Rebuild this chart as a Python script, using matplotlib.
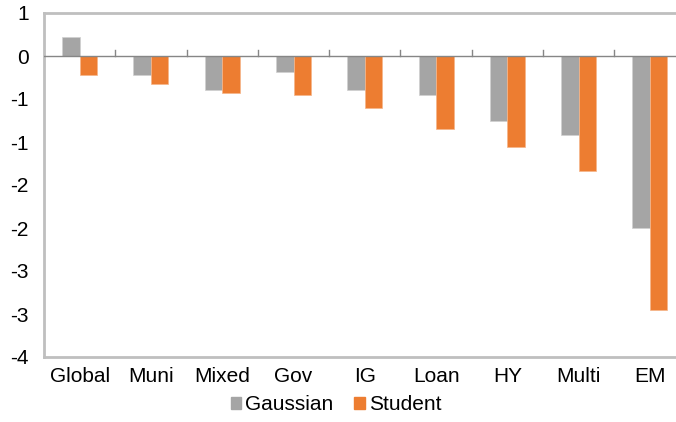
import matplotlib.pyplot as plt
import numpy as np
from matplotlib.patches import Patch
from matplotlib.ticker import FuncFormatter

plt.rcParams['font.family'] = ['Liberation Sans', 'DejaVu Sans']

categories = ["Global", "Muni", "Mixed", "Gov", "IG", "Loan", "HY", "Multi", "EM"]
gaussian = [0.22, -0.22, -0.39, -0.19, -0.39, -0.45, -0.75, -0.92, -2.00]
student = [-0.22, -0.32, -0.43, -0.45, -0.60, -0.85, -1.06, -1.34, -2.95]

GREY = "#A5A5A5"
ORANGE = "#ED7D31"
FS = 15


def excel_round(v, _pos):
    # round half away from zero, like a 0-decimal number format
    r = int(np.floor(abs(v) + 0.5 + 1e-9))
    return f"-{r}" if v < 0 and r != 0 else f"{r}"


fig = plt.figure(figsize=(6.76, 4.22), dpi=100)
ax = fig.add_axes([44 / 676, 1 - 357 / 422, 641.6 / 676, (357 - 13) / 422])

x = np.arange(len(categories))
w = 0.245
ax.bar(x - w / 2, gaussian, w, color=GREY, edgecolor="#D0D0D0", linewidth=0.5, zorder=2)
ax.bar(x + w / 2, student, w, color=ORANGE, edgecolor="#F5B58A", linewidth=0.5, zorder=2)

ax.set_xlim(-0.5, len(categories) - 0.5)
ax.set_ylim(-3.5, 0.5)
ax.set_yticks(np.arange(0.5, -3.51, -0.5))
ax.yaxis.set_major_formatter(FuncFormatter(excel_round))
ax.tick_params(axis='y', length=0, pad=11, labelsize=FS)

ax.set_xticks(x)
ax.set_xticklabels(categories)
ax.tick_params(axis='x', length=0, pad=7, labelsize=FS)

for s in ax.spines.values():
    s.set_color("#BFBFBF")
    s.set_linewidth(2)

# zero line with small category separators
ax.axhline(0, color="#868686", linewidth=1, zorder=3)
for b in np.arange(0.5, len(categories) - 0.5, 1):
    ax.plot([b, b], [0, 0.065], color="#868686", linewidth=1, zorder=3)

handles = [Patch(color=GREY, label="Gaussian"), Patch(color=ORANGE, label="Student")]
fig.legend(handles=handles, loc="center", bbox_to_anchor=(336 / 676, 1 - 405 / 422),
           ncol=2, frameon=False, fontsize=FS, handlelength=0.5, handleheight=0.5,
           handletextpad=0.2, columnspacing=1.0, borderpad=0)

fig.savefig("out.png", dpi=100)
